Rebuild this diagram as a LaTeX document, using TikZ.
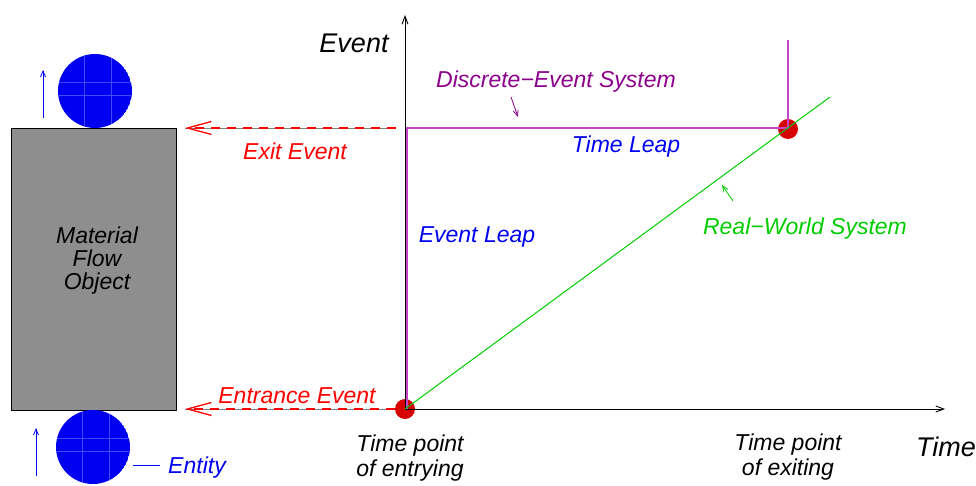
\documentclass[tikz,border=0pt]{standalone}
\usepackage{fontspec}
\setmainfont{Liberation Sans}
\usetikzlibrary{arrows.meta}

\definecolor{entblue}{RGB}{0,0,240}
\definecolor{gridblue}{RGB}{70,70,250}
\definecolor{dotred}{RGB}{215,0,0}
\definecolor{desviolet}{RGB}{140,0,140}
\definecolor{desline}{RGB}{195,70,200}
\definecolor{rwgreen}{RGB}{0,205,0}
\definecolor{mfogray}{RGB}{142,142,142}

\tikzset{
  lbl/.style={font=\fontsize{23}{26}\selectfont\itshape, align=center, inner sep=0pt},
  axlbl/.style={font=\fontsize{27}{30}\selectfont\itshape, inner sep=0pt},
  evarrow/.style={red, line width=1.3pt, dash pattern=on 9pt off 7pt,
    -{Straight Barb[length=24pt,width=13pt,line width=1.3pt]}},
  evbase/.style={gray, line width=0.6pt},
  smallarrow/.style={line width=0.8pt, -{Straight Barb[length=6pt,width=5pt]}},
  axisarrow/.style={line width=0.9pt, -{Straight Barb[length=8pt,width=6pt]}},
}

\begin{document}
\begin{tikzpicture}[x=1pt,y=-1pt]
  \useasboundingbox (0,0) rectangle (976,486);

  % material flow object
  \draw[fill=mfogray, line width=0.9pt] (11,128) rectangle (176,410);
  \node[lbl] (mfo) at (97,261) {Material\\[-3pt]Flow\\[-3pt]Object};

  % entities
  \foreach \cx/\cy/\nm in {95/91/top, 93/447/bot} {
    \begin{scope}
      \clip (\cx,\cy) circle (37);
      \fill[entblue] (\cx,\cy) circle (37);
      \draw[gridblue, line width=0.5pt]
        (\cx-11,\cy-40) -- (\cx-11,\cy+40)
        (\cx+16,\cy-40) -- (\cx+16,\cy+40)
        (\cx-40,\cy-9) -- (\cx+40,\cy-9)
        (\cx-40,\cy+4) -- (\cx+40,\cy+4);
    \end{scope}
    \coordinate (ent\nm) at (\cx,\cy);
  }
  \coordinate (upA) at (43,118);
  \coordinate (upB) at (43,70);
  \coordinate (upC) at (36,476);
  \coordinate (upD) at (36,428);
  \draw[smallarrow, entblue] (upA) -- (upB);
  \draw[smallarrow, entblue] (upC) -- (upD);

  \coordinate (entA) at (133,465);
  \coordinate (entB) at (160,465);
  \draw[entblue, line width=0.9pt] (entA) -- (entB);
  \node[lbl, entblue] (entity) at (197,468) {Entity};

  % red dots
  \fill[dotred] (405,409) circle (10);
  \fill[dotred] (788,129) circle (10);

  % axes
  \coordinate (O) at (405,409);
  \coordinate (yend) at (405,15);
  \coordinate (xend) at (945,409);
  \draw[axisarrow] (O) -- (yend);
  \draw[axisarrow] (O) -- (xend);
  \node[axlbl] (evlbl) at (354,43) {Event};
  \node[axlbl] (timelbl) at (946,447) {Time};

  % event arrows
  \coordinate (exA) at (396,128);
  \coordinate (exB) at (185,128);
  \coordinate (enA) at (395,409);
  \coordinate (enB) at (185,409);
  \draw[evbase] (exA) -- (exB);
  \draw[evbase] (enA) -- (enB);
  \draw[evarrow] (exA) -- (exB);
  \draw[evarrow] (enA) -- (enB);
  \node[lbl, red] (exitlbl) at (295,151) {Exit Event};
  \node[lbl, red] (entlbl) at (297,396) {Entrance Event};

  % discrete-event system
  \coordinate (d1) at (407,409);
  \coordinate (d2) at (407,128);
  \coordinate (d3) at (788,128);
  \coordinate (d4) at (788,40);
  \draw[desline, line width=1.2pt] (d1) -- (d2) -- (d3) -- (d4);
  \node[lbl, desviolet] (deslbl) at (556,82) {Discrete−Event System};
  \coordinate (dpA) at (511,97);
  \coordinate (dpB) at (518,117);
  \draw[smallarrow, desviolet] (dpA) -- (dpB);

  % real-world system
  \coordinate (rwA) at (405,409);
  \coordinate (rwB) at (830,97);
  \draw[rwgreen, line width=1pt] (rwA) -- (rwB);
  \node[lbl, rwgreen] (rwlbl) at (805,229) {Real−World System};
  \coordinate (rpA) at (733,201);
  \coordinate (rpB) at (722,185);
  \draw[smallarrow, rwgreen] (rpA) -- (rpB);

  % leaps
  \node[lbl, entblue] (tleap) at (626,147) {Time Leap};
  \node[lbl, entblue] (eleap) at (477,237) {Event Leap};

  % time points
  \node[lbl] (tpin) at (410,458) {Time point\\[-1pt]of entrying};
  \node[lbl] (tpout) at (788,457) {Time point\\[-1pt]of exiting};
\end{tikzpicture}
\end{document}
